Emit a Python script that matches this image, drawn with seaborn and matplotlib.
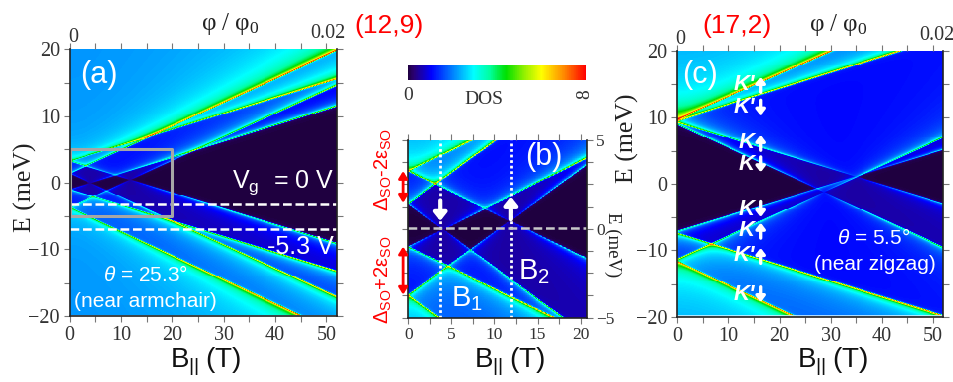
import numpy as np
import matplotlib
matplotlib.use("Agg")
import matplotlib.pyplot as plt
from matplotlib.colors import LinearSegmentedColormap
import seaborn as sns

# band edges, E = e0 + slope * B, one pair of edges per subband
a_up_e0 = [1.4, 3.25, -3.7, -1.0]
a_up_slope = [0.354, 0.237, 0.352, 0.24]
a_down_e0 = [-3.7, -1.0, 3.25, 1.4]
a_down_slope = [-0.36, -0.235, -0.237, -0.355]

c_up_e0 = [9.7, 9.5, -7.1, -11.3]
c_up_slope = [0.34, 0.24, 0.235, 0.351]
c_down_e0 = [-11.6, -7.4, 9.3, 9.0]
c_down_slope = [-0.36, -0.238, -0.235, -0.356]

cmap_stops = [0.0, 0.03, 0.13, 0.25, 0.37, 0.46, 0.55, 0.65, 0.75, 0.87, 1.0]
cmap_colors = ["#1f0040", "#2a0070", "#0000ff", "#0080ff", "#00ffff", "#00ffa0",
               "#00e000", "#90f000", "#ffff00", "#ff9000", "#ff0000"]

WIDTH = 954
HEIGHT = 382
WEIGHT = 0.54

sns.set_theme(style="white")
plt.rcParams["font.family"] = ["Liberation Sans", "DejaVu Sans"]
plt.rcParams["mathtext.fontset"] = "custom"
plt.rcParams["mathtext.rm"] = "Liberation Sans"
plt.rcParams["mathtext.it"] = "Liberation Sans:italic"
plt.rcParams["mathtext.default"] = "regular"
SERIF = "Liberation Serif"

dos_cmap = LinearSegmentedColormap.from_list("dos", list(zip(cmap_stops, cmap_colors)))


def dos_map(up_e0, up_slope, down_e0, down_slope, bmax, emax, eta, n=270, sub=3):
    m = n * sub
    b = (np.arange(m) + 0.5) / m * bmax
    e = emax - (np.arange(m) + 0.5) / m * 2 * emax
    bb, ee = np.meshgrid(b, e)
    total = np.zeros_like(bb)
    for i in range(4):
        up = up_e0[i] + up_slope[i] * bb
        down = down_e0[i] + down_slope[i] * bb
        mid = (up + down) / 2
        gap = np.abs(up - down) / 2
        z = np.abs(ee - mid) + 1j * eta
        total += WEIGHT * np.abs(np.real(z / np.sqrt(z * z - gap * gap)))
    # clip then average down so the ridges do not alias
    total = np.clip(total, 0, 8)
    return total.reshape(n, sub, n, sub).mean(axis=(1, 3))


def panel_axes(x0, x1, y0, y1):
    return plt.figure(1).add_axes([x0 / WIDTH, 1 - y1 / HEIGHT, (x1 - x0) / WIDTH, (y1 - y0) / HEIGHT])


def draw_panel(box, dos, bmax, emax):
    ax = panel_axes(*box)
    sns.heatmap(dos, ax=ax, cmap=dos_cmap, vmin=0, vmax=8, cbar=False, xticklabels=False, yticklabels=False)
    # physical scale drawn on top of the cell grid
    ov = ax.inset_axes([0, 0, 1, 1])
    ov.patch.set_visible(False)
    ov.set_xlim(0, bmax)
    ov.set_ylim(-emax, emax)
    for side in ov.spines:
        ov.spines[side].set_color("#222222")
        ov.spines[side].set_linewidth(1.2)
    ov.spines["top"].set_visible(False)
    return ov


def px_text(x, y, s, **kw):
    return fig.text(x / WIDTH, 1 - y / HEIGHT, s, ha=kw.pop("ha", "center"), va=kw.pop("va", "center"), **kw)


def style_ticks(ov, xmajor, xminor, ymajor, yminor, ylabels, size=14.5):
    ov.set_xticks(xmajor)
    ov.set_xticklabels([str(v) for v in xmajor], family=SERIF, fontsize=size, color="#333333")
    ov.set_xticks(xminor, minor=True)
    ov.set_yticks(ymajor)
    ov.set_yticklabels(ylabels, family=SERIF, fontsize=size, color="#333333")
    ov.set_yticks(yminor, minor=True)
    ov.tick_params(axis="both", which="both", length=4, width=0.8, color="#777777", pad=3, bottom=True, left=True)
    ov.tick_params(axis="both", which="both", top=True, right=True)


fig = plt.figure(1, figsize=(WIDTH / 100, HEIGHT / 100), dpi=100)

# panel (a)
dos_a = dos_map(a_up_e0, a_up_slope, a_down_e0, a_down_slope, 52, 20, 0.03)
a = draw_panel((69.7, 336.7, 49.3, 316), dos_a, 52, 20)
style_ticks(a, [0, 10, 20, 30, 40, 50], np.arange(0, 52, 5), [-20, -10, 0, 10, 20], np.arange(-20, 21, 5),
            ["\u221220", "\u221210", "0", "10", "20"])
a.axhline(-3.2, color="white", lw=1.8, ls=(0, (3.5, 1.5)))
a.axhline(-7.0, color="white", lw=1.8, ls=(0, (3.5, 1.5)))
a.axhline(-19.95, color="white", lw=1.2)
a.plot([0, 20, 20, 0, 0], [-5, -5, 5, 5, -5], color="#a6a6a6", lw=2.2, clip_on=False)
a.text(2, 16.2, "(a)", color="white", fontsize=22, va="center")
a.text(51.5, 0.0, "V$_g$  = 0 V", color="white", fontsize=18, ha="right", va="center")
a.text(51.5, -9.6, "-5.3 V", color="white", fontsize=18, ha="right", va="center")
a.text(14.7, -13.9, r"$\mathit{\theta}$ = 25.3$\degree$", color="white", fontsize=15, ha="center", va="center")
a.text(14.7, -17.85, "(near armchair)", color="white", fontsize=15, ha="center", va="center")
px_text(25, 187, "E (meV)", family=SERIF, fontsize=18.5, rotation=90, color="#222222")
px_text(230, 24, "\u03c6 / \u03c6$_0$", family=SERIF, fontsize=18, color="#222222")
px_text(73, 38, "0", family=SERIF, fontsize=14.5, color="#333333")
px_text(328, 33, "0.02", family=SERIF, fontsize=14.5, color="#333333")
px_text(205, 362, "B$_{||}$\u2009(T)", fontsize=20, color="#111111")

# panel (b), same bands on a closer window
dos_b = dos_map(a_up_e0, a_up_slope, a_down_e0, a_down_slope, 20.7, 5, 0.015)
b = draw_panel((408.3, 586.7, 140, 317.7), dos_b, 20.7, 5)
style_ticks(b, [0, 5, 10, 15, 20], np.arange(0, 21, 2.5), [-5, 0, 5], np.arange(-5, 5.1, 1.25),
            ["\u22125", "0", "5"], size=12.5)
b.yaxis.tick_right()
b.tick_params(axis="y", which="both", left=True, right=True)
b.axvline(3.7, color="white", lw=2, ls=(0, (1, 1)))
b.axvline(11.9, color="white", lw=2, ls=(0, (1, 1)))
b.axhline(0.03, color="#c8c8c8", lw=1.8, ls=(0, (3.5, 1.5)))
arrow_white = dict(arrowstyle="-|>,head_width=0.32,head_length=0.4", color="white", lw=3, shrinkA=0, shrinkB=0)
b.annotate("", xy=(3.7, 0.45), xytext=(3.7, 1.6), arrowprops=arrow_white)
b.annotate("", xy=(11.9, 1.8), xytext=(11.9, 0.55), arrowprops=arrow_white)
b.text(13.6, 4.05, "(b)", color="white", fontsize=22, va="center")
b.text(5, -3.9, "B$_1$", color="white", fontsize=21, va="center")
b.text(12.7, -2.4, "B$_2$", color="white", fontsize=21, va="center")
arrow_red = dict(arrowstyle="<|-|>,head_width=0.22,head_length=0.35", color="#ff0000", lw=2, shrinkA=0, shrinkB=0)
b.annotate("", xy=(-0.6, 3.25), xytext=(-0.6, 1.47), arrowprops=arrow_red, annotation_clip=False)
b.annotate("", xy=(-0.6, -1.0), xytext=(-0.6, -3.7), arrowprops=arrow_red, annotation_clip=False)
px_text(383, 169, "$\u0394_{SO}$-2$\u03b5_{SO}$", fontsize=14.5, rotation=90, color="#ff0000")
px_text(383, 280, "$\u0394_{SO}$+2$\u03b5_{SO}$", fontsize=14.5, rotation=90, color="#ff0000")
px_text(613, 245, "E (meV)", family=SERIF, fontsize=13.5, rotation=-90, color="#222222")
px_text(509, 362, "B$_{||}$\u2009(T)", fontsize=20, color="#111111")
px_text(389, 26, "(12,9)", fontsize=19, color="#ff0000")

# colour bar
cb = panel_axes(408, 586, 65, 80)
sns.heatmap(np.linspace(0, 8, 356).reshape(1, -1), ax=cb, cmap=dos_cmap, vmin=0, vmax=8, cbar=False,
            xticklabels=False, yticklabels=False)
px_text(408, 95, "0", family=SERIF, fontsize=14, color="#333333")
px_text(484, 100, "DOS", family=SERIF, fontsize=14, color="#333333")
px_text(585, 94, "8", family=SERIF, fontsize=14, rotation=90, color="#333333")

# panel (c)
dos_c = dos_map(c_up_e0, c_up_slope, c_down_e0, c_down_slope, 52, 20, 0.03)
c = draw_panel((677.3, 943.3, 50.7, 317), dos_c, 52, 20)
style_ticks(c, [0, 10, 20, 30, 40, 50], np.arange(0, 52, 5), [-20, -10, 0, 10, 20], np.arange(-20, 21, 5),
            ["\u221220", "\u221210", "0", "10", "20"])
c.axhline(-19.9, color="#d0f0ff", lw=1.2)
c.text(1, 16.4, "(c)", color="white", fontsize=22, va="center")
c.text(38.3, -8.1, r"$\mathit{\theta}$ = 5.5$\degree$", color="white", fontsize=15, ha="center", va="center")
c.text(38.6, -12.1, "(near zigzag)", color="white", fontsize=15, ha="center", va="center")

k_labels = ["K'", "K'", "K", "K", "K", "K", "K'", "K'"]
k_energy = [14.9, 11.4, 6.2, 2.9, -3.8, -7.0, -10.8, -16.6]
k_spin_up = [True, False, True, False, False, True, True, False]
arrow_k = dict(arrowstyle="-|>,head_width=0.22,head_length=0.28", color="white", lw=2.4, shrinkA=0, shrinkB=0)
for lab, en, spin in zip(k_labels, k_energy, k_spin_up):
    c.text(15.2, en, lab, color="white", fontsize=16, fontweight="bold", fontstyle="italic", ha="right", va="center")
    step = 1.15 if spin else -1.15
    c.annotate("", xy=(16.3, en + step), xytext=(16.3, en - step), arrowprops=arrow_k)

px_text(627, 138, "E (meV)", family=SERIF, fontsize=18.5, rotation=90, color="#222222")
px_text(838, 25, "\u03c6 / \u03c6$_0$", family=SERIF, fontsize=18, color="#222222")
px_text(680, 40, "0", family=SERIF, fontsize=14.5, color="#333333")
px_text(937, 35, "0.02", family=SERIF, fontsize=14.5, color="#333333")
px_text(832, 362, "B$_{||}$\u2009(T)", fontsize=20, color="#111111")
px_text(737, 26, "(17,2)", fontsize=19, color="#ff0000")

fig.savefig("out.png", dpi=100)
